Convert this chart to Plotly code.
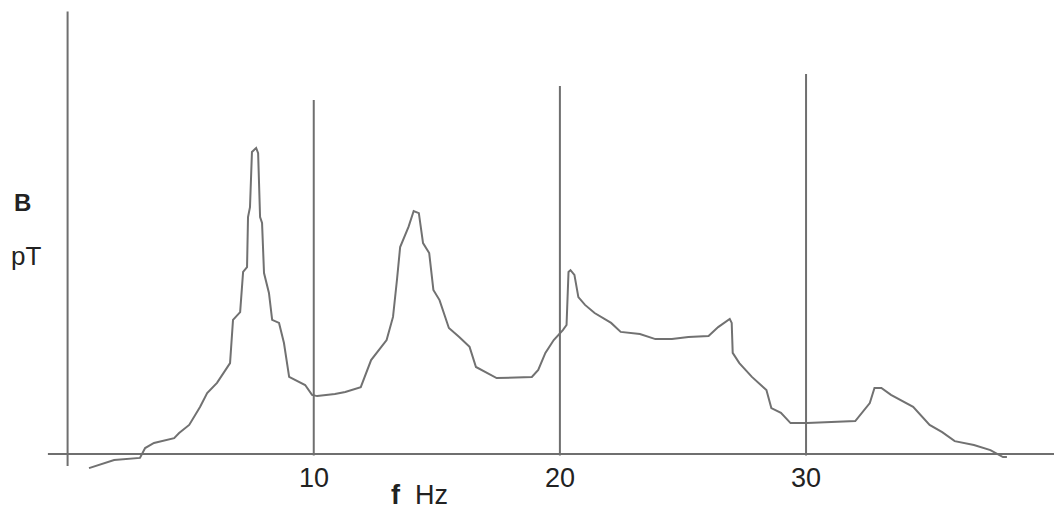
import plotly.graph_objects as go

# ---- data (frequency in Hz, B in arbitrary pT units) ----
freq_hz = [0.87, 1.89, 2.94, 3.15, 3.51, 4.33, 4.53, 4.94, 5.38, 5.67, 6.07, 6.60,
           6.72, 7.01, 7.13, 7.29, 7.33, 7.41, 7.49, 7.66, 7.74, 7.82, 7.90, 7.98,
           8.18, 8.31, 8.59, 8.79, 9.00, 9.44, 9.65, 9.93, 10.14, 10.86, 11.28,
           11.91, 12.33, 12.96, 13.22, 13.38, 13.51, 13.85, 14.06, 14.27, 14.44,
           14.69, 14.86, 15.11, 15.49, 15.91, 16.33, 16.59, 17.43, 18.86, 19.12,
           19.41, 19.75, 20.12, 20.27, 20.35, 20.43, 20.59, 20.75, 21.02, 21.41,
           22.08, 22.47, 23.25, 23.88, 24.55, 25.22, 26.04, 26.43, 26.90, 26.98,
           27.02, 27.29, 27.80, 28.39, 28.59, 28.98, 29.37, 30.04, 32.00, 32.20,
           32.59, 32.78, 33.06, 33.45, 34.35, 35.02, 35.53, 36.04, 36.82, 37.49,
           38.00, 38.16]
b_pt = [-0.47, -0.20, -0.13, 0.20, 0.37, 0.53, 0.70, 0.97, 1.57, 2.03, 2.37, 3.03,
        4.47, 4.73, 6.07, 6.23, 7.90, 8.23, 10.07, 10.20, 10.03, 7.90, 7.70, 6.03,
        5.37, 4.47, 4.37, 3.70, 2.57, 2.40, 2.30, 1.97, 1.93, 2.00, 2.07,
        2.23, 3.13, 3.80, 4.57, 5.80, 6.90, 7.57, 8.10, 8.03, 7.03,
        6.70, 5.47, 5.13, 4.20, 3.90, 3.57, 2.90, 2.53, 2.57, 2.80,
        3.37, 3.80, 4.13, 4.30, 6.07, 6.13, 5.97, 5.23, 4.97, 4.70,
        4.37, 4.07, 4.00, 3.83, 3.83, 3.90, 3.93, 4.23, 4.50, 4.37,
        3.37, 3.03, 2.57, 2.13, 1.53, 1.37, 1.03, 1.03, 1.10, 1.30,
        1.70, 2.20, 2.20, 1.97, 1.57, 0.97, 0.73, 0.43, 0.30, 0.13,
        -0.10, -0.10]

tick_values = [10, 20, 30]
tick_labels = ["10", "20", "30"]
marker_line_tops = [11.8, 12.27, 12.67]   # heights of the vertical marker lines

LINE_COLOR = "#6f6f6f"
FONT = "Liberation Sans, Arial, sans-serif"
TEXT_COLOR = "#222222"

fig = go.Figure()

# spectrum curve
fig.add_trace(go.Scatter(
    x=freq_hz, y=b_pt, mode="lines",
    line=dict(color="#717171", width=2),
    hoverinfo="skip", showlegend=False,
))

# axes drawn as lines
fig.add_shape(type="line", x0=0, x1=0, y0=-0.4, y1=14.75,
              line=dict(color=LINE_COLOR, width=2))
fig.add_shape(type="line", x0=-0.8, x1=40.1, y0=0, y1=0,
              line=dict(color=LINE_COLOR, width=2))

# vertical marker lines at 10, 20, 30 Hz and their labels
for tv, lab, top in zip(tick_values, tick_labels, marker_line_tops):
    fig.add_shape(type="line", x0=tv, x1=tv, y0=-0.05, y1=top,
                  line=dict(color=LINE_COLOR, width=2))
    fig.add_annotation(x=tv, y=-0.8, text=lab, showarrow=False,
                       xanchor="center", yanchor="middle",
                       font=dict(family=FONT, size=27, color=TEXT_COLOR))

# axis titles
fig.add_annotation(x=14.3, y=-1.37, text="<b>f</b>  Hz", showarrow=False,
                   xanchor="center", yanchor="middle",
                   font=dict(family=FONT, size=27, color=TEXT_COLOR))
fig.add_annotation(x=-1.82, y=8.37, text="<b>B</b>", showarrow=False,
                   xanchor="center", yanchor="middle",
                   font=dict(family=FONT, size=24, color=TEXT_COLOR))
fig.add_annotation(x=-1.7, y=6.6, text="pT", showarrow=False,
                   xanchor="center", yanchor="middle",
                   font=dict(family=FONT, size=26, color=TEXT_COLOR))

fig.update_layout(
    width=1054, height=509,
    margin=dict(l=0, r=0, t=0, b=0),
    paper_bgcolor="white", plot_bgcolor="white",
    xaxis=dict(range=[-2.746, 40.073], visible=False, fixedrange=True),
    yaxis=dict(range=[-1.833, 15.133], visible=False, fixedrange=True),
    showlegend=False,
)

fig.write_html(
    "out.html",
    config={"displayModeBar": False},
    post_script="document.body.style.margin='0';document.body.style.overflow='hidden';",
)
